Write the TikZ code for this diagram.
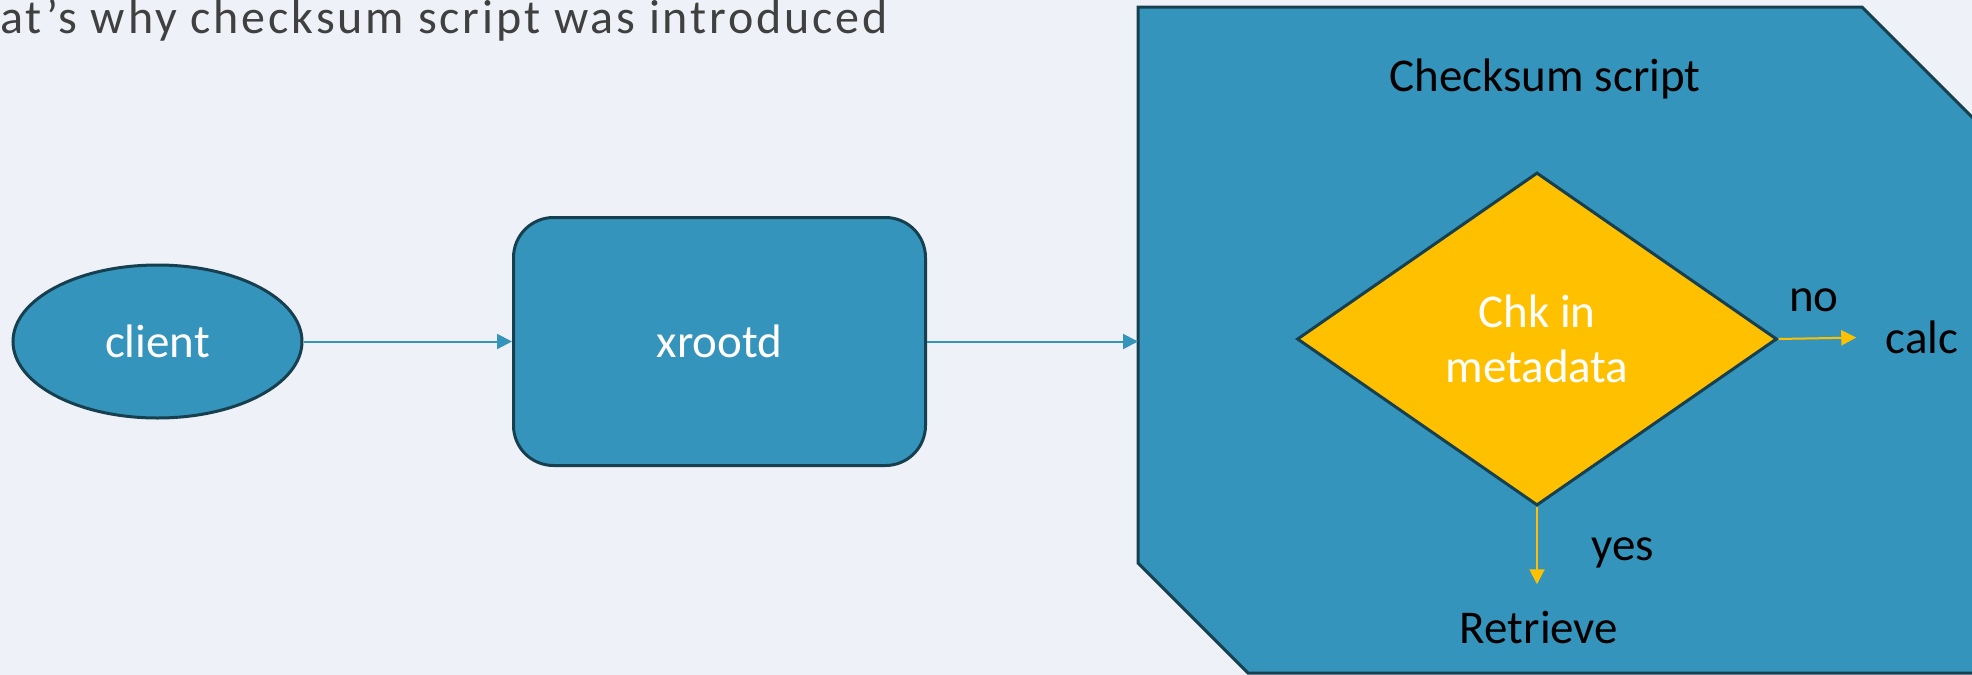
\documentclass[tikz,border=0pt]{standalone}
\usepackage{fontspec}
\setmainfont{Carlito}
\newfontfamily\titlefont[LetterSpace=6]{Carlito}
\usetikzlibrary{shapes.geometric,arrows.meta}
\definecolor{bg}{HTML}{EEF1F7}
\definecolor{boxblue}{HTML}{3594BC}
\definecolor{edgecol}{HTML}{16404F}
\definecolor{gold}{HTML}{FFC000}
\definecolor{titlegrey}{HTML}{404040}
\begin{document}
\begin{tikzpicture}[x=0.5pt,y=-0.5pt,
  shapebox/.style={fill=boxblue, draw=edgecol, line width=1.5pt},
  txt/.style={font=\fontsize{23.5}{27.5}\selectfont, inner sep=0pt},
  bluearrow/.style={draw=boxblue, line width=1pt, -{Triangle[length=7.5pt,width=7.5pt]}},
  goldarrow/.style={draw=gold, line width=1pt, -{Triangle[length=7.5pt,width=7.5pt]}}]
\useasboundingbox (0,0) rectangle (1972,675);
\fill[bg] (0,0) rectangle (1972,675);
\begin{scope}
  \clip (0,0) rectangle (1972,675);
  \draw[shapebox, line join=miter] (1138,7) -- (1862,7) -- (1990,135) -- (1990,673) -- (1248,673) -- (1138,563) -- cycle;
\end{scope}
\coordinate (octW) at (1138,341.5);
\node[anchor=base west, inner sep=0pt, font=\titlefont\fontsize{24}{28}\selectfont, text=titlegrey] (title) at (0,33) {at’s why checksum script was introduced};
\node[shapebox, ellipse, minimum width=144.5pt, minimum height=76.5pt, txt, text=white] (client) at (157.5,341.5) {client};
\node[shapebox, rounded corners=20pt, minimum width=206pt, minimum height=124pt, txt, text=white] (xrootd) at (719.5,341.5) {xrootd};
\node[txt, anchor=base] (cs) at (1545,91) {Checksum script};
\node[diamond, draw=edgecol, fill=gold, line width=1.5pt, minimum width=240pt, minimum height=166.5pt, txt, align=center, text=white] (dia) at (1537,339) {Chk in\\metadata};
\node[txt] (no) at (1814,300) {no};
\node[txt] (calc) at (1922,337) {calc};
\node[txt, anchor=base] (yes) at (1623,560) {yes};
\node[txt, anchor=base] (retr) at (1539,643) {Retrieve};
\draw[bluearrow] (client.east) -- (xrootd.west);
\draw[bluearrow] (xrootd.east) -- (octW);
\draw[goldarrow, shorten >=14.5pt] (dia.east) -- (calc.west);
\draw[goldarrow, shorten >=13pt] (dia.south) -- (dia.south |- retr.north);
\end{tikzpicture}
\end{document}
